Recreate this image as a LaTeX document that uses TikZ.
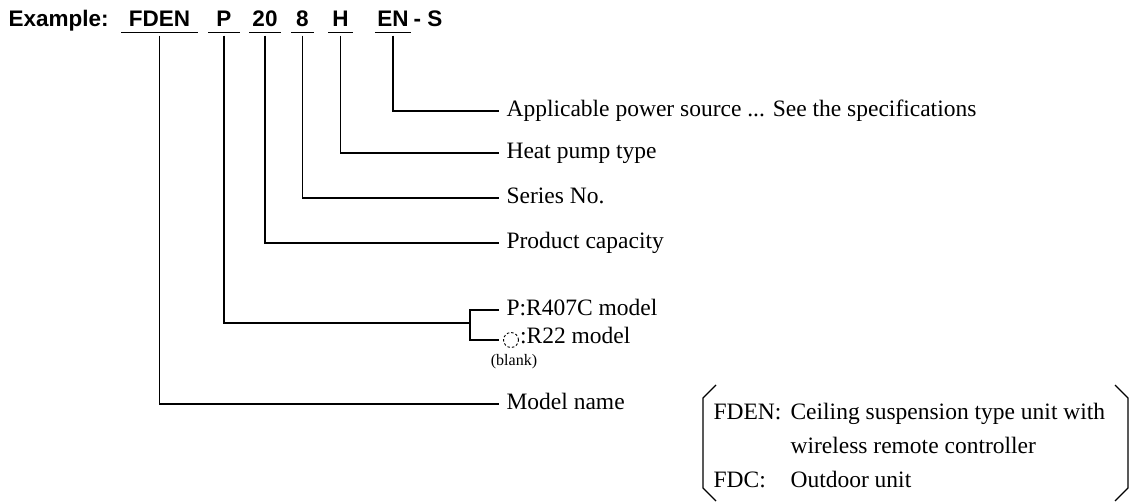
\documentclass[tikz,border=0pt]{standalone}
\usepackage{fontspec}
\setmainfont{Liberation Serif}
\setsansfont{Liberation Sans}
\usetikzlibrary{positioning}

\begin{document}
\begin{tikzpicture}[
		x=1pt, y=-1pt,
		line width=1.1pt,
		code/.style={
			font=\sffamily\bfseries\fontsize{22.5}{26}\selectfont,
			anchor=base, inner sep=0pt, text depth=5pt
		},
		lbl/.style={
			font=\fontsize{23.5}{28}\selectfont, anchor=west,
			inner xsep=7pt, inner ysep=0pt, text height=16pt, text depth=5pt
		},
		uline/.style={line width=1.7pt}
		]
		\useasboundingbox (0,0) rectangle (1132,503);
		
		% ---- Kopfzeile: Modellbezeichnung, einzelne Teile unterstrichen
		\node[code, anchor=base west] (ex)   at (8,27)     {Example:};
		\node[code, minimum width=75pt] (fden) at (159.5,27) {FDEN};
		\node[code, minimum width=30pt] (p)    at (224,27)   {P};
		\node[code, minimum width=30pt] (cap)  at (265,27)   {20};
		\node[code, minimum width=21pt] (ser)  at (302.5,27) {8};
		\node[code, minimum width=23pt] (hp)   at (340.5,27) {H};
		\node[code, minimum width=35pt] (en)   at (393,27)   {EN};
		\node[code, anchor=base west]   (suf)  at (413,27)   {- S};
		\foreach \n in {fden,p,cap,ser,hp,en}
			\draw[uline] (\n.south west) -- (\n.south east);
		
		% ---- Erklaerungen rechts
		\node[lbl] (power)    at (499,111) {Applicable power source ... See the specifications};
		\node[lbl] (heat)     at (499,153) {Heat pump type};
		\node[lbl] (series)   at (499,198) {Series No.};
		\node[lbl] (capacity) at (499,243) {Product capacity};
		\node[lbl] (r407)     at (499,310) {P:R407C model};
		\node[draw, circle, dashed, dash pattern=on 2.5pt off 2pt, line width=0.9pt,
			minimum size=15pt, inner sep=0pt, outer sep=0pt] (blank) at (511,340) {};
		\node[lbl, inner xsep=1pt] (r22) at (518.5,338) {:R22 model};
		\node[font=\fontsize{16}{18}\selectfont, inner sep=0pt] (blanktxt) at (514,362) {(blank)};
		\node[lbl] (model)    at (499,404) {Model name};
		
		% ---- Verbindungen
		\coordinate (pjoin) at (470,323);
		\draw ([yshift=-3pt]en.south)   |- (power.west);
		\draw ([yshift=-3pt]hp.south)   |- (heat.west);
		\draw ([yshift=-3pt]ser.south)  |- (series.west);
		\draw ([yshift=-3pt]cap.south)  |- (capacity.west);
		\draw ([yshift=-3pt]p.south)    |- (pjoin);
		\draw[shorten >=4.5pt] (r407.west) -| (pjoin) |- (blank.west);
		\draw ([yshift=-3pt]fden.south) |- (model.west);
		
		% ---- Kasten mit Erlaeuterung der Kuerzel
		\node[anchor=base west, inner sep=0pt, font=\fontsize{23.5}{34}\selectfont] (legend) at (713,419)
			{\begin{tabular}[t]{@{}p{77pt}@{}l@{}}
				FDEN: & Ceiling suspension type unit with\\
				      & wireless remote controller\\
				FDC:  & Outdoor unit
			\end{tabular}};
		\draw (716,385) -- (703,398) -- (703,488) -- (716,501);
		\draw (1115,385) -- (1128,398) -- (1128,488) -- (1115,501);
	\end{tikzpicture}
\end{document}
